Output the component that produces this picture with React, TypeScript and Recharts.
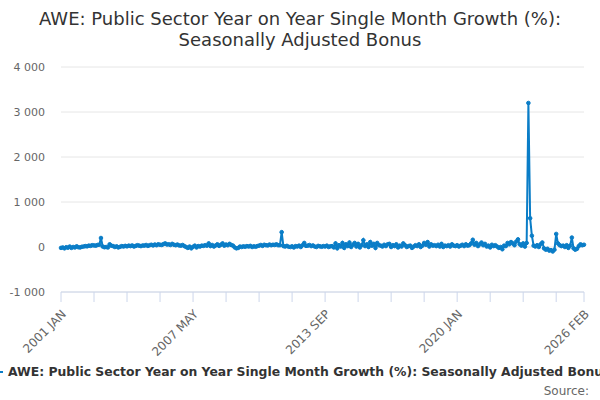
import React from "react";
import { LineChart, Line, XAxis, YAxis, CartesianGrid } from "recharts";

const MONTHS = ["JAN", "FEB", "MAR", "APR", "MAY", "JUN", "JUL", "AUG", "SEP", "OCT", "NOV", "DEC"];

const START_YEAR = 2001;

// Year on year single month growth (%), one row per year, Jan..Dec
const v2001 = [-20, -10, -30, -5, -15, 10, -20, 0, -10, 15, -5, -10];
const v2002 = [5, 10, 20, 15, 30, 25, 40, 35, 30, 45, 50, 200];
const v2003 = [10, -5, 0, -10, 60, 30, 20, 0, 15, -10, 5, 20];
const v2004 = [10, 25, 15, 30, 20, 35, 10, 25, 40, 30, 20, 35];
const v2005 = [30, 45, 25, 40, 50, 35, 55, 40, 60, 50, 45, 65];
const v2006 = [80, 55, 60, 45, 70, 50, 40, 55, 35, 30, 45, 20];
const v2007 = [0, -20, 10, -30, 5, 30, -10, 20, 10, 30, 25, 40];
const v2008 = [30, 80, 20, 45, 10, 35, 60, 25, 50, 80, 30, 55];
const v2009 = [40, 70, 45, 30, -10, -30, -20, 10, 0, 15, 5, 20];
const v2010 = [10, 25, 0, 15, 5, 20, 30, 45, 25, 50, 40, 35];
const v2011 = [55, 40, 50, 45, 60, 40, 40, 330, 20, 10, 25, 5];
const v2012 = [0, 15, -10, 20, 10, 30, 0, 40, 90, 25, 30, 45];
const v2013 = [20, 35, 10, 0, 25, 15, 5, 20, 10, 30, 0, 15];
const v2014 = [20, -10, 80, -30, 40, 10, 90, -20, 60, 20, 100, 0];
const v2015 = [50, 90, 10, 70, -10, 40, 150, 20, 60, 0, 110, 30];
const v2016 = [70, -20, 90, 40, 30, 10, 50, 20, 60, 70, 0, 40];
const v2017 = [20, 60, -10, 30, 10, 80, 40, 0, 20, 30, -20, 10];
const v2018 = [40, 20, 60, 0, 30, 90, 50, 110, 10, 60, 30, 40];
const v2019 = [20, 50, 10, 70, 0, 30, 20, 40, 10, 60, 30, 20];
const v2020 = [40, 10, 30, 50, 20, 60, 30, 40, 80, 160, 50, 90];
const v2021 = [20, 60, 100, 40, 70, 10, 30, -10, 50, 20, 40, 10];
const v2022 = [-20, 0, -50, 30, 20, 90, 60, 110, 80, 40, 120, 170];
const v2023 = [60, 30, 80, 10, 90, 3200, 640, 250, 30, 10, 40, 0];
const v2024 = [60, 100, -30, -60, -40, -80, -70, -100, -60, 290, 80, 40];
const v2025 = [20, 30, 0, 40, -20, 30, 210, -30, -60, -40, 20, 60];
const v2026 = [40, 50];

const yearly = [
  v2001, v2002, v2003, v2004, v2005, v2006, v2007, v2008, v2009, v2010,
  v2011, v2012, v2013, v2014, v2015, v2016, v2017, v2018, v2019, v2020,
  v2021, v2022, v2023, v2024, v2025, v2026,
];

const yTicks = [-1000, 0, 1000, 2000, 3000, 4000];
const labelTicks = ["2001 JAN", "2007 MAY", "2013 SEP", "2020 JAN", "2026 FEB"];

const data = yearly.flatMap((vals, yi) =>
  vals.map((v, mi) => ({ label: `${START_YEAR + yi} ${MONTHS[mi]}`, value: v }))
);

const tickMarks = data.filter((_, i) => i % 19 === 0).map((d) => d.label);
if (!tickMarks.includes(data[data.length - 1].label)) tickMarks.push(data[data.length - 1].label);

const SERIES_NAME = "AWE: Public Sector Year on Year Single Month Growth (%): Seasonally Adjusted Bonus";
const COLOR = "#0a7dc7";
const FONT = "DejaVu Sans";

const fmt = (v: number) => {
  const s = Math.abs(v).toString().replace(/\B(?=(\d{3})+(?!\d))/g, " ");
  return (v < 0 ? "-" : "") + s;
};

const XTick = (props: any) => {
  const { x, y, payload } = props;
  if (!labelTicks.includes(payload.value)) return null;
  return (
    <g transform={`translate(${x + 3},${y + 8})`}>
      <text
        textAnchor="end"
        transform="rotate(-45)"
        fill="#666"
        dy={4}
        style={{ fontFamily: FONT, fontSize: 12 }}
      >
        {payload.value}
      </text>
    </g>
  );
};

const YTick = (props: any) => {
  const { y, payload } = props;
  return (
    <text x={45} y={y} dy={4} textAnchor="end" fill="#666" style={{ fontFamily: FONT, fontSize: 11 }}>
      {fmt(payload.value)}
    </text>
  );
};

export default function App() {
  return (
    <div
      style={{
        position: "absolute",
        left: 0,
        top: 0,
        width: 600,
        height: 400,
        overflow: "hidden",
        background: "#fff",
        fontFamily: FONT,
      }}
    >
      <LineChart width={600} height={400} data={data} margin={{ top: 67, right: 16, bottom: 0, left: 0 }}>
        <CartesianGrid horizontal vertical={false} stroke="#e6e6e6" />
        <XAxis
          dataKey="label"
          ticks={tickMarks}
          interval={0}
          tick={<XTick />}
          tickSize={10}
          tickLine={{ stroke: "#ccd6eb" }}
          axisLine={{ stroke: "#ccd6eb" }}
          height={108}
        />
        <YAxis
          domain={[-1000, 4000]}
          ticks={yTicks}
          axisLine={false}
          tickLine={false}
          tick={<YTick />}
          width={61}
          allowDataOverflow
        />
        <Line
          type="linear"
          dataKey="value"
          stroke={COLOR}
          strokeWidth={2}
          dot={{ r: 1.8, fill: COLOR, stroke: COLOR, strokeWidth: 1 }}
          isAnimationActive={false}
        />
      </LineChart>
      <svg width={600} height={400} style={{ position: "absolute", left: 0, top: 0, pointerEvents: "none" }}>
        <text x={300} y={25} textAnchor="middle" fill="#333" style={{ fontFamily: FONT, fontSize: 18 }}>
          AWE: Public Sector Year on Year Single Month Growth (%):
        </text>
        <text x={300} y={46} textAnchor="middle" fill="#333" style={{ fontFamily: FONT, fontSize: 18 }}>
          Seasonally Adjusted Bonus
        </text>
        <line x1={-12} y1={372} x2={3} y2={372} stroke={COLOR} strokeWidth={2} />
        <text x={8} y={376} fill="#333" style={{ fontFamily: FONT, fontSize: 12.4, fontWeight: "bold" }}>
          {SERIES_NAME}
        </text>
        <text x={589} y={395} textAnchor="end" fill="#666" style={{ fontFamily: FONT, fontSize: 12 }}>
          Source:
        </text>
      </svg>
    </div>
  );
}
